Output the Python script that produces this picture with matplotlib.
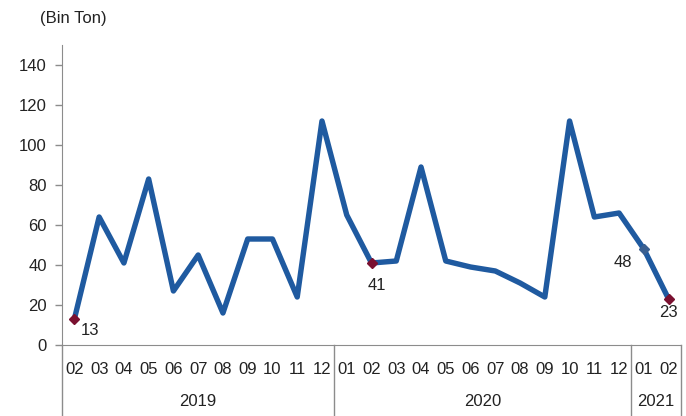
import numpy as np
import matplotlib.pyplot as plt
import matplotlib.transforms as mtransforms

plt.rcParams['font.family'] = ['Liberation Sans', 'DejaVu Sans']

months = ['02', '03', '04', '05', '06', '07', '08', '09', '10', '11', '12',
          '01', '02', '03', '04', '05', '06', '07', '08', '09', '10', '11', '12',
          '01', '02']
values = [13, 64, 41, 83, 27, 45, 16, 53, 53, 24, 112,
          65, 41, 42, 89, 42, 39, 37, 31, 24, 112, 64, 66,
          48, 23]
years = ['2019', '2020', '2021']
year_counts = [11, 12, 2]

# labelled points: index, text, offset
labels = [(0, '13', (11, -8)), (12, '41', (4, -16)), (23, '48', (-15, -10)), (24, '23', (0, -10))]

line_color = '#1F5AA0'
axis_color = '#8C8C8C'

fig = plt.figure(figsize=(6.86, 4.16), dpi=100)
ax = fig.add_axes([62 / 686, 71 / 416, 619 / 686, 300 / 416])

x = np.arange(len(values))
ax.plot(x, values, color=line_color, lw=3.9, solid_joinstyle='round', zorder=2)

for i, txt, off in labels:
    mc = '#3A5F90' if txt == '48' else '#7A1030'
    ax.plot(x[i], values[i], marker='D', ms=5, color=mc, zorder=3)
    ax.annotate(txt, (x[i], values[i]), xytext=off, textcoords='offset points',
                ha='center', va='center', fontsize=12, color='#222222')

ax.set_xlim(-0.5, len(values) - 0.5)
ax.set_ylim(0, 150)
ax.set_yticks(range(0, 141, 20))
ax.tick_params(axis='y', labelsize=12, colors=axis_color, labelcolor='#222222',
               length=5, width=1, pad=6)
ax.set_xticks([])

for s in ['top', 'right']:
    ax.spines[s].set_visible(False)
ax.spines['left'].set_color(axis_color)
ax.spines['bottom'].set_color(axis_color)

trans = mtransforms.blended_transform_factory(ax.transData, ax.transAxes)
bot = -71 / 300
ax.plot([-0.5, -0.5], [0, bot], transform=trans, color=axis_color, lw=1, clip_on=False)
start = 0
for yr, n in zip(years, year_counts):
    end = start + n
    ax.plot([end - 0.5, end - 0.5], [0, bot], transform=trans, color=axis_color,
            lw=1, clip_on=False)
    ax.text((start + end - 1) / 2, -57 / 300, yr, transform=trans, ha='center',
            va='center', fontsize=12, color='#222222')
    start = end

for i, m in enumerate(months):
    ax.text(i, -24 / 300, m, transform=trans, ha='center', va='center',
            fontsize=12, color='#222222')

fig.text(40 / 686, 1 - 18 / 416, '(Bin Ton)', ha='left', va='center',
         fontsize=12, color='#222222')

fig.savefig('out.png', dpi=100)
